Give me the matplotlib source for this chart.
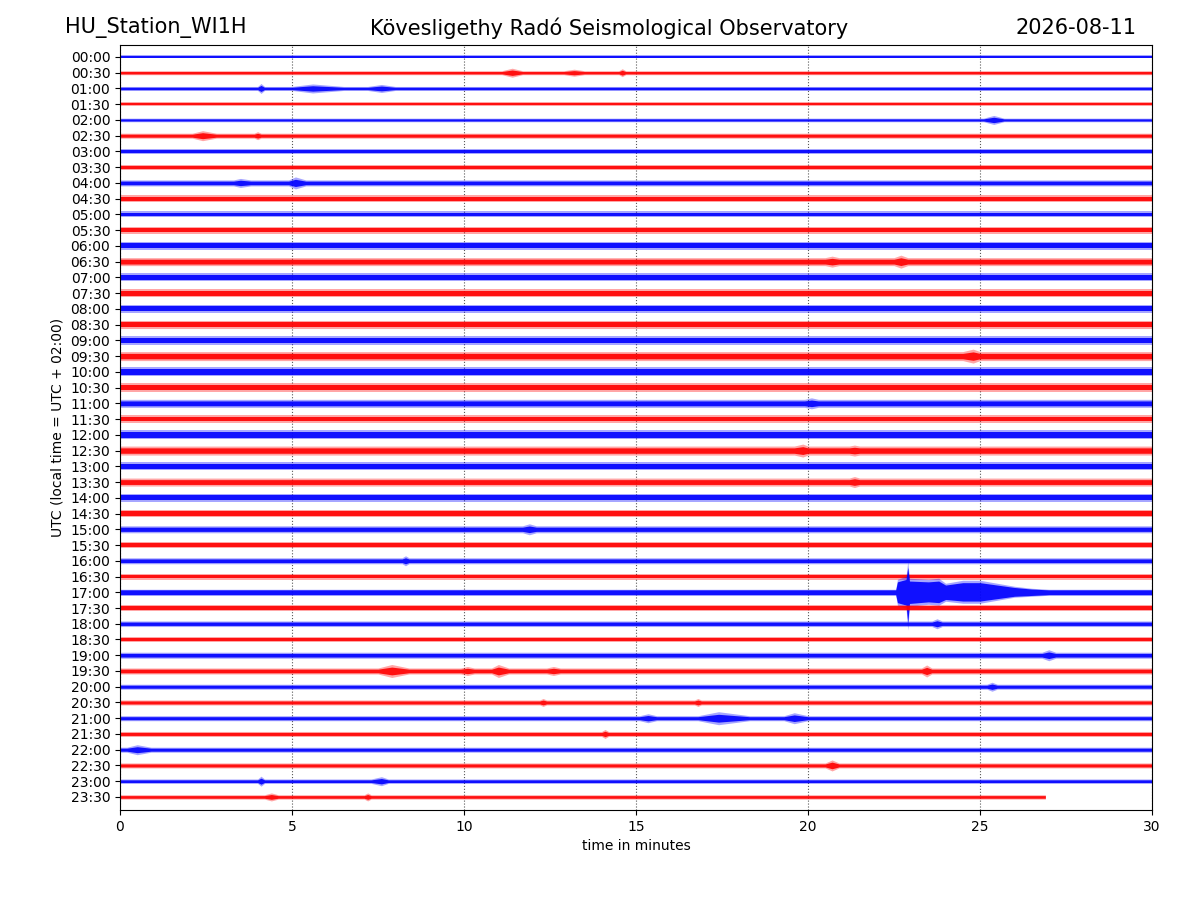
import numpy as np
import matplotlib
matplotlib.use("Agg")
import matplotlib.pyplot as plt

# one row per half hour, 00:00 at the top
row_labels = ["00:00", "00:30", "01:00", "01:30", "02:00", "02:30", "03:00", "03:30",
              "04:00", "04:30", "05:00", "05:30", "06:00", "06:30", "07:00", "07:30",
              "08:00", "08:30", "09:00", "09:30", "10:00", "10:30", "11:00", "11:30",
              "12:00", "12:30", "13:00", "13:30", "14:00", "14:30", "15:00", "15:30",
              "16:00", "16:30", "17:00", "17:30", "18:00", "18:30", "19:00", "19:30",
              "20:00", "20:30", "21:00", "21:30", "22:00", "22:30", "23:00", "23:30"]

# background noise half-amplitude of each row (in pixels of the original plot)
noise_level = [1.5, 2.0, 2.0, 1.8, 1.8, 2.5, 2.2, 2.5,
               3.0, 3.2, 3.0, 3.5, 4.0, 4.0, 4.0, 4.0,
               4.0, 4.0, 4.5, 4.5, 4.5, 4.5, 4.0, 4.0,
               4.5, 4.5, 4.0, 4.0, 4.0, 3.5, 3.5, 3.0,
               3.0, 3.0, 3.0, 3.0, 2.8, 2.8, 3.0, 3.0,
               2.5, 2.5, 2.5, 2.5, 2.5, 2.5, 2.2, 2.2]

# minute at which each row's record ends
row_end = [30.0] * 47 + [26.9]

# small events: (row label, start min, peak min, end min, peak half-amplitude px)
burst_row = ["00:30", "00:30", "00:30", "01:00", "01:00", "01:00", "02:00", "02:30",
             "02:30", "04:00", "04:00", "06:30", "06:30", "09:30", "11:00", "12:30",
             "12:30", "13:30", "15:00", "16:00", "18:00", "19:00", "19:30", "19:30",
             "19:30", "19:30", "19:30", "20:00", "20:30", "20:30", "21:00", "21:00",
             "21:00", "21:30", "22:00", "22:30", "23:00", "23:00", "23:30", "23:30"]
burst_start = [11.1, 12.9, 14.5, 4.0, 5.0, 7.2, 25.1, 2.1,
               3.9, 3.3, 4.9, 20.5, 22.5, 24.5, 19.9, 19.6,
               21.2, 21.2, 11.7, 8.2, 23.6, 26.8, 7.5, 9.9,
               10.8, 12.4, 23.3, 25.2, 12.2, 16.7, 15.1, 16.8,
               19.3, 14.0, 0.2, 20.5, 4.0, 7.3, 4.2, 7.1]
burst_peak = [11.4, 13.2, 14.6, 4.1, 5.6, 7.6, 25.4, 2.4,
              4.0, 3.5, 5.1, 20.7, 22.7, 24.8, 20.1, 19.85,
              21.35, 21.35, 11.9, 8.3, 23.75, 27.0, 7.9, 10.1,
              11.0, 12.6, 23.45, 25.35, 12.3, 16.8, 15.35, 17.4,
              19.6, 14.1, 0.5, 20.7, 4.1, 7.6, 4.4, 7.2]
burst_end = [11.7, 13.5, 14.7, 4.2, 6.5, 8.0, 25.7, 2.8,
             4.1, 3.8, 5.4, 20.9, 22.9, 25.0, 20.3, 20.0,
             21.5, 21.5, 12.1, 8.4, 23.9, 27.2, 8.4, 10.3,
             11.3, 12.8, 23.6, 25.5, 12.4, 16.9, 15.6, 18.3,
             20.0, 14.2, 0.9, 20.9, 4.2, 7.8, 4.6, 7.3]
burst_amp = [4.5, 3.5, 4.0, 5.0, 4.5, 4.0, 4.5, 5.0,
             4.0, 4.5, 6.0, 5.5, 6.5, 7.0, 5.5, 6.5,
             5.5, 5.5, 5.5, 5.0, 5.0, 5.5, 6.5, 4.5,
             6.5, 4.5, 6.0, 4.5, 4.0, 4.0, 4.5, 6.5,
             5.5, 4.5, 5.0, 5.5, 5.0, 4.5, 4.0, 4.0]

# the earthquake on the 17:00 row: envelope above and below the trace (px)
quake_row = "17:00"
quake_min = [22.55, 22.6, 22.85, 22.9, 22.95, 23.5, 23.8, 24.0, 24.5, 25.0, 25.5, 26.0, 26.5, 27.0]
quake_up = [3.0, 13.0, 16.0, 31.0, 14.0, 13.0, 14.0, 9.0, 12.0, 12.0, 9.0, 6.0, 4.0, 3.0]
quake_down = [3.0, 13.0, 16.0, 38.0, 14.0, 12.0, 13.0, 9.0, 11.0, 11.0, 8.0, 5.0, 4.0, 3.0]

ROW_PX = 15.745  # spacing of rows in the original picture
colors = ["blue", "red"]

fig = plt.figure(figsize=(12, 9), dpi=100)
ax = fig.add_axes([0.1, 0.1, 0.86, 0.85])

for i, lab in enumerate(row_labels):
    base = noise_level[i]
    pts = {0.0: (base, base), row_end[i]: (base, base)}
    for r, s, p, e, a in zip(burst_row, burst_start, burst_peak, burst_end, burst_amp):
        if r == lab:
            pts[s] = (base, base)
            pts[p] = (a, a)
            pts[e] = (base, base)
    if lab == quake_row:
        for m, u, d in zip(quake_min, quake_up, quake_down):
            pts[m] = (u, d)
    xs = np.array(sorted(pts))
    up = np.array([pts[x][0] for x in xs]) / ROW_PX
    dn = np.array([pts[x][1] for x in xs]) / ROW_PX
    c = colors[i % 2]
    core = 0.8 if lab == quake_row else 0.6
    # light fringe for the spiky edges, solid core for the trace body
    ax.fill_between(xs, i - up, i + dn, color=c, alpha=0.35, lw=0)
    ax.fill_between(xs, i - core * up, i + core * dn, color=c, alpha=0.9, lw=0)

ax.set_xlim(0, 30)
ax.set_ylim(47.83, -0.76)
ax.set_xticks([0, 5, 10, 15, 20, 25, 30])
ax.set_yticks(range(len(row_labels)))
ax.set_yticklabels(row_labels)
ax.grid(axis="x", linestyle=":", color="0.35", lw=0.8)
ax.set_axisbelow(True)
ax.set_xlabel("time in minutes")
ax.set_ylabel("UTC (local time = UTC + 02:00)")

fig.text(0.054, 0.969, "HU_Station_WI1H", fontsize=15, ha="left", va="center")
fig.text(0.508, 0.969, "Kövesligethy Radó Seismological Observatory", fontsize=15,
         ha="center", va="center")
fig.text(0.947, 0.969, "2026-08-11", fontsize=15, ha="right", va="center")

fig.savefig("out.png", dpi=100)
